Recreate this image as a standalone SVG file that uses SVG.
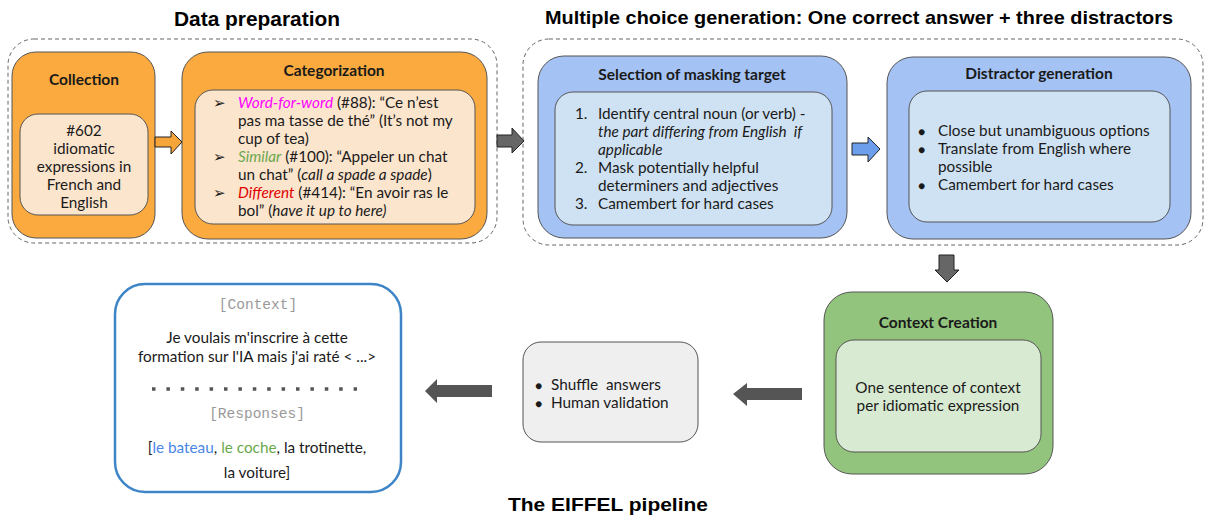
<svg xmlns="http://www.w3.org/2000/svg" width="1205" height="515" viewBox="0 0 1205 515">
<style>
.t{font-family:Lato,"Liberation Sans",sans-serif;font-size:15.3px;fill:#1a1a1a}
.b{font-weight:bold;font-size:15.5px}
.c{text-anchor:middle}
.i{font-style:italic}
.h{font-family:"Liberation Sans",Arial,sans-serif;font-weight:bold;fill:#000}
.m{font-family:"Liberation Mono","DejaVu Sans Mono",monospace;font-size:14.5px;fill:#999;text-anchor:middle}
.grp{fill:none;stroke:#666;stroke-width:1;stroke-dasharray:4 3}
.out{stroke:#555;stroke-width:1}
.inn{stroke:#555;stroke-width:1}
.dot{font-size:12px}
</style>
<rect width="1205" height="515" fill="#fff"/>
<text class="h c" x="257" y="26" font-size="20" textLength="166" lengthAdjust="spacingAndGlyphs">Data preparation</text>
<text class="h c" x="859" y="24" font-size="19" textLength="628" lengthAdjust="spacingAndGlyphs">Multiple choice generation: One correct answer + three distractors</text>
<text class="h c" x="608" y="511" font-size="19" textLength="200" lengthAdjust="spacingAndGlyphs">The EIFFEL pipeline</text>
<g id="data-preparation-group"><rect class="grp" x="8" y="39" width="489" height="204" rx="26"/></g>
<g id="mcq-group"><rect class="grp" x="523" y="39" width="680" height="206" rx="26"/></g>
<g id="collection">
<rect class="out" x="12" y="52" width="143" height="186" rx="24" fill="#fbaa3f"/>
<text class="t b c" x="84" y="85">Collection</text>
<rect class="inn" x="20" y="114" width="128" height="101" rx="18" fill="#fce5cd"/>
<text class="t c" x="84" y="136">#602</text>
<text class="t c" x="84" y="154">idiomatic</text>
<text class="t c" x="84" y="172">expressions in</text>
<text class="t c" x="84" y="190">French and</text>
<text class="t c" x="84" y="208">English</text>
</g>
<g id="categorization">
<rect class="out" x="182" y="52" width="305" height="187" rx="26" fill="#fbaa3f"/>
<text class="t b c" x="334" y="76">Categorization</text>
<rect class="inn" x="195" y="90" width="280" height="134" rx="18" fill="#fce5cd"/>
<text class="t" x="213" y="108">➢</text>
<text class="t" x="238" y="108"><tspan fill="#ff00ff" class="i">Word-for-word</tspan> (#88): “Ce n’est</text>
<text class="t" x="238" y="126">pas ma tasse de thé” (It’s not my</text>
<text class="t" x="238" y="144">cup of tea)</text>
<text class="t" x="213" y="162">➢</text>
<text class="t" x="238" y="162"><tspan fill="#6aa84f" class="i">Similar</tspan> (#100): “Appeler un chat</text>
<text class="t" x="238" y="180">un chat” (<tspan class="i">call a spade a spade</tspan>)</text>
<text class="t" x="213" y="198">➢</text>
<text class="t" x="238" y="198"><tspan fill="#e00000" class="i">Different</tspan> (#414): “En avoir ras le</text>
<text class="t" x="238" y="216">bol” (<tspan class="i">have it up to here)</tspan></text>
</g>
<g id="selection">
<rect class="out" x="538" y="56" width="309" height="182" rx="26" fill="#a4c2f4"/>
<text class="t b c" x="692" y="80">Selection of masking target</text>
<rect class="inn" x="555" y="92" width="277" height="133" rx="18" fill="#cfe2f3"/>
<text class="t" x="575" y="119">1.</text>
<text class="t" x="598" y="119">Identify central noun (or verb) -</text>
<text class="t i" x="598" y="137" xml:space="preserve">the part differing from English  if</text>
<text class="t i" x="598" y="155">applicable</text>
<text class="t" x="575" y="173">2.</text>
<text class="t" x="598" y="173">Mask potentially helpful</text>
<text class="t" x="598" y="191">determiners and adjectives</text>
<text class="t" x="575" y="209">3.</text>
<text class="t" x="598" y="209">Camembert for hard cases</text>
</g>
<g id="distractor-generation">
<rect class="out" x="887" y="57" width="304" height="182" rx="26" fill="#a4c2f4"/>
<text class="t b c" x="1039" y="79">Distractor generation</text>
<rect class="inn" x="909" y="91" width="261" height="131" rx="18" fill="#cfe2f3"/>
<text class="t dot" x="918" y="136">●</text>
<text class="t" x="938" y="136">Close but unambiguous options</text>
<text class="t dot" x="918" y="154">●</text>
<text class="t" x="938" y="154">Translate from English where</text>
<text class="t" x="938" y="172">possible</text>
<text class="t dot" x="918" y="190">●</text>
<text class="t" x="938" y="190">Camembert for hard cases</text>
</g>
<g id="context-creation">
<rect class="out" x="824" y="292" width="229" height="182" rx="28" fill="#93c47d"/>
<text class="t b c" x="938" y="328">Context Creation</text>
<rect class="inn" x="836" y="340" width="205" height="112" rx="18" fill="#d9ead3"/>
<text class="t c" x="938" y="393">One sentence of context</text>
<text class="t c" x="938" y="411">per idiomatic expression</text>
</g>
<g id="validation">
<rect class="out" x="523" y="342" width="175" height="100" rx="18" fill="#efefef"/>
<text class="t dot" x="535" y="390">●</text>
<text class="t" x="551" y="390" xml:space="preserve">Shuffle  answers</text>
<text class="t dot" x="535" y="408">●</text>
<text class="t" x="551" y="408">Human validation</text>
</g>
<g id="output-example">
<rect x="115" y="284" width="286" height="208" rx="30" fill="#fff" stroke="#3d85c6" stroke-width="2.5"/>
<text class="m" x="258" y="309">[Context]</text>
<text class="t c" x="257" y="343">Je voulais m'inscrire à cette</text>
<text class="t c" x="257" y="362">formation sur l'IA mais j'ai raté &lt; ...&gt;</text>
<line x1="152" y1="389" x2="357" y2="389" stroke="#555" stroke-width="3.5" stroke-dasharray="3.5 10.9"/>
<text class="m" x="257" y="418">[Responses]</text>
<text class="t c" x="257" y="453">[<tspan fill="#4a86e8">le bateau</tspan>, <tspan fill="#6aa84f">le coche</tspan>, la trotinette,</text>
<text class="t c" x="257" y="478">la voiture]</text>
</g>
<g id="connectors">
<polygon points="155,137 171,137 171,131 182,142 171,154 171,147 155,147" fill="#f6a53a" stroke="#222" stroke-width="1"/>
<polygon points="497,135 512,135 512,128 524,141 512,153 512,147 497,147" fill="#666" stroke="#222" stroke-width="1"/>
<polygon points="852,143 868,143 868,137 880,149 868,162 868,155 852,155" fill="#6d9eeb" stroke="#222" stroke-width="1"/>
<polygon points="939,255 954,255 954,270 959,270 947,282 935,270 939,270" fill="#666" stroke="#222" stroke-width="1"/>
<polygon points="802,388 747,388 747,383 733,394 747,406 747,400 802,400" fill="#555"/>
<polygon points="492,385 437,385 437,379 425,391 437,403 437,397 492,397" fill="#555"/>
</g>
</svg>
